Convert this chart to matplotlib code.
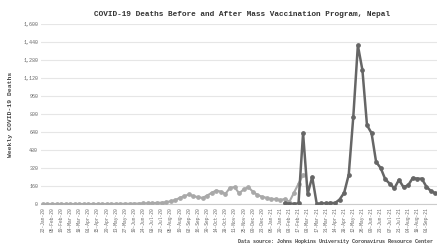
# COVID-19 weekly deaths in Nepal, before / after vaccination start
import numpy as np
import pandas as pd
import matplotlib.pyplot as plt
from matplotlib.ticker import FuncFormatter

# weekly dates (x categories)
dates = pd.date_range('2020-01-22', periods=90, freq='7D')
date_labels = [d.strftime('%d-%b-%y') for d in dates]

# before mass vaccination (weeks 0..57)
before = [0, 0, 0, 0, 0, 0, 0, 0, 0, 0,
          0, 0, 0, 0, 0, 0, 1, 1, 2, 2,
          3, 4, 5, 6, 8, 10, 12, 15, 25, 35,
          55, 70, 85, 70, 60, 55, 75, 100, 120, 110,
          90, 145, 150, 95, 130, 150, 110, 80, 65, 55,
          45, 45, 35, 45, 20, 100, 180, 260]

# after mass vaccination (weeks 53..88)
after_start = 53
after = [5, 3, 2, 5, 630, 90, 240, 0, 5, 5,
         10, 8, 40, 100, 260, 775, 1410, 1190, 700, 630,
         373, 320, 220, 180, 140, 215, 150, 165, 230, 225,
         225, 155, 115, 95, 80, 70]

x_before = np.arange(len(before))
x_after = np.arange(after_start, after_start + len(after))

fig = plt.figure(figsize=(4.37, 2.46), dpi=100)
ax = fig.add_axes([41 / 437, 1 - 204 / 246, 431 / 437, 180 / 246])

mono = 'Liberation Mono'

ax.plot(x_before, before, color='#a9a9a9', lw=1.5, marker='o', ms=2.4,
        mfc='#a9a9a9', mec='#a9a9a9', zorder=3)
ax.plot(x_after, after, color='#666666', lw=1.8, marker='o', ms=2.4,
        mfc='#666666', mec='#666666', zorder=4)

ax.set_ylim(0, 1600)
ax.set_yticks(np.arange(0, 1601, 160))
ax.yaxis.set_major_formatter(FuncFormatter(lambda v, p: f'{int(v):,}'))
ax.set_xlim(-0.4, 94)
tick_idx = np.arange(0, 86, 2)   # labels that fit inside the visible width
ax.set_xticks(tick_idx)
ax.set_xticklabels([date_labels[i] for i in tick_idx], rotation=90)

ax.grid(axis='y', color='#e6e6e6', lw=0.8)
ax.set_axisbelow(True)
for s in ['top', 'right', 'left']:
    ax.spines[s].set_visible(False)
ax.spines['bottom'].set_color('#cccccc')
ax.tick_params(length=0, pad=2)
for lab in ax.get_yticklabels():
    lab.set_fontfamily(mono)
    lab.set_fontsize(3.6)
    lab.set_color('#666666')
for lab in ax.get_xticklabels():
    lab.set_fontfamily(mono)
    lab.set_fontsize(3.3)
    lab.set_color('#666666')

ax.set_ylabel('Weekly COVID-19 Deaths', fontfamily=mono, fontsize=4.6,
              fontweight='bold', color='#444444', labelpad=7)

fig.text(242 / 437, 1 - 15 / 246,
         'COVID-19 Deaths Before and After Mass Vaccination Program, Nepal',
         ha='center', va='center', fontfamily=mono, fontsize=5.6,
         fontweight='bold', color='#333333')
fig.text(238 / 437, 1 - 241 / 246,
         'Data source: Johns Hopkins University Coronavirus Resource Center',
         ha='left', va='center', fontfamily=mono, fontsize=3.6,
         fontweight='bold', color='#444444')

fig.savefig('out.png', dpi=100)
